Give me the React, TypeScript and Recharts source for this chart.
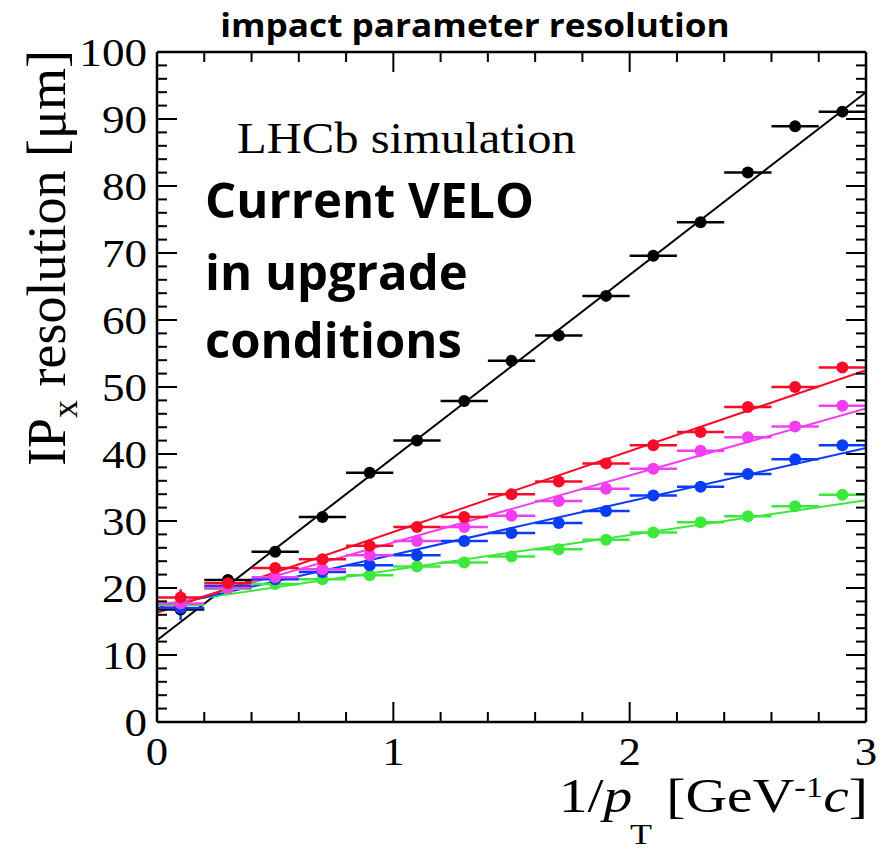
import React from 'react';
import { ComposedChart, Scatter, Line, XAxis, YAxis, ErrorBar } from 'recharts';

// ---- data ----
const binCenters = [0.1, 0.3, 0.5, 0.7, 0.9, 1.1, 1.3, 1.5, 1.7, 1.9, 2.1, 2.3, 2.5, 2.7, 2.9];
const binHalfWidth = 0.1;

const blackValues = [16.8, 21.2, 25.4, 30.6, 37.2, 42.0, 47.9, 53.9, 57.7, 63.6, 69.6, 74.6, 82.0, 88.9, 91.1];
const redValues = [18.6, 20.7, 23.0, 24.3, 26.3, 29.1, 30.6, 34.0, 35.9, 38.6, 41.3, 43.3, 47.0, 50.0, 52.9];
const magentaValues = [17.7, 20.0, 21.6, 22.8, 24.9, 27.0, 29.1, 30.8, 33.0, 34.8, 37.8, 40.5, 42.5, 44.1, 47.2];
const blueValues = [17.0, 20.3, 21.3, 22.4, 23.4, 24.9, 27.0, 28.2, 29.7, 31.5, 33.8, 35.1, 37.0, 39.2, 41.3];
const greenValues = [17.5, 19.9, 20.6, 21.3, 21.9, 23.2, 23.8, 24.7, 25.8, 27.2, 28.3, 29.8, 30.7, 32.2, 33.9];

const blackErrors = [0.6, 0.4, 0.4, 0.4, 0.4, 0.4, 0.4, 0.4, 0.4, 0.4, 0.4, 0.4, 0.4, 0.4, 0.4];
const redErrors = [1.2, 0.4, 0.4, 0.3, 0.3, 0.3, 0.3, 0.3, 0.3, 0.3, 0.3, 0.3, 0.3, 0.3, 0.3];
const magentaErrors = [0.8, 0.4, 0.3, 0.3, 0.3, 0.3, 0.3, 0.3, 0.3, 0.3, 0.3, 0.3, 0.3, 0.3, 0.3];
const blueErrors = [1.8, 0.4, 0.3, 0.3, 0.3, 0.3, 0.3, 0.3, 0.3, 0.3, 0.3, 0.3, 0.3, 0.3, 0.3];
const greenErrors = [0.6, 0.3, 0.3, 0.3, 0.3, 0.3, 0.3, 0.3, 0.3, 0.3, 0.3, 0.3, 0.3, 0.3, 0.3];

const fitX = [0, 3];
const blackFit = [12.2, 94.0];
const redFit = [16.3, 52.5];
const magentaFit = [16.8, 46.8];
const blueFit = [17.0, 40.9];
const greenFit = [17.5, 33.1];

const xTickLabels = ['0', '1', '2', '3'];
const yTickLabels = ['0', '10', '20', '30', '40', '50', '60', '70', '80', '90', '100'];

// ---- helpers ----
const COLORS = {
  black: '#000000',
  red: '#f80a28',
  magenta: '#f23ef2',
  blue: '#0a3cf5',
  green: '#3ce83c',
};

const points = (vals: number[], errs: number[]) =>
  binCenters.map((x, i) => ({ x, y: vals[i], ex: binHalfWidth, ey: errs[i] }));
const fitLine = (vals: number[]) => fitX.map((x, i) => ({ x, y: vals[i] }));

const xTicks: number[] = [];
for (let k = 0; k <= 15; k++) xTicks.push(Math.round(k * 0.2 * 1000) / 1000);
const yTicks: number[] = [];
for (let k = 0; k <= 50; k++) yTicks.push(k * 2);

const isInt = (v: number) => Math.abs(v - Math.round(v)) < 1e-6;
const isXMajor = (v: number) => isInt(v);
const isYMajor = (v: number) => isInt(v / 10);

const SERIF = '"Liberation Serif", "Times New Roman", serif';
const SANS = '"Open Sans", "Liberation Sans", sans-serif';

const MAJOR = 20;
const MINOR = 10;

const BottomTick = (props: any) => {
  const { x, y, payload } = props;
  const v = payload.value;
  const major = isXMajor(v);
  return (
    <g>
      <line x1={x} x2={x} y1={y} y2={y - (major ? MAJOR : MINOR)} stroke="#000" strokeWidth={2} />
      {major && (
        <text
          x={0}
          y={0}
          transform={`translate(${x}, ${y + 43}) scale(1.12, 1)`}
          textAnchor="middle"
          fontFamily={SERIF}
          fontSize={40}
          fill="#000"
        >
          {xTickLabels[Math.round(v)]}
        </text>
      )}
    </g>
  );
};

const TopTick = (props: any) => {
  const { x, y, payload } = props;
  const major = isXMajor(payload.value);
  return <line x1={x} x2={x} y1={y} y2={y + (major ? MAJOR : MINOR)} stroke="#000" strokeWidth={2} />;
};

const LeftTick = (props: any) => {
  const { x, y, payload } = props;
  const v = payload.value;
  const major = isYMajor(v);
  return (
    <g>
      <line x1={x} x2={x + (major ? MAJOR : MINOR)} y1={y} y2={y} stroke="#000" strokeWidth={2} />
      {major && (
        <text
          x={0}
          y={0}
          transform={`translate(${x - 10}, ${y + 14}) scale(1.1, 1)`}
          textAnchor="end"
          fontFamily={SERIF}
          fontSize={41}
          fill="#000"
        >
          {yTickLabels[Math.round(v / 10)]}
        </text>
      )}
    </g>
  );
};

const RightTick = (props: any) => {
  const { x, y, payload } = props;
  const major = isYMajor(payload.value);
  return <line x1={x} x2={x - (major ? MAJOR : MINOR)} y1={y} y2={y} stroke="#000" strokeWidth={2} />;
};

const dot = (color: string) => (p: any) =>
  p.cx == null ? <g /> : <circle cx={p.cx} cy={p.cy} r={6} fill={color} />;

const series = [
  { key: 'black', vals: blackValues, errs: blackErrors, fit: blackFit, color: COLORS.black },
  { key: 'green', vals: greenValues, errs: greenErrors, fit: greenFit, color: COLORS.green },
  { key: 'blue', vals: blueValues, errs: blueErrors, fit: blueFit, color: COLORS.blue },
  { key: 'magenta', vals: magentaValues, errs: magentaErrors, fit: magentaFit, color: COLORS.magenta },
  { key: 'red', vals: redValues, errs: redErrors, fit: redFit, color: COLORS.red },
];

export default function App() {
  const axisLine = { stroke: '#000', strokeWidth: 2.5 };
  return (
    <div style={{ position: 'absolute', left: 0, top: 0, background: '#fff' }}>
      <ComposedChart width={882} height={850} margin={{ top: 51, right: 15, bottom: 0, left: 0 }}>
        <XAxis
          xAxisId="b"
          dataKey="x"
          type="number"
          domain={[0, 3]}
          allowDataOverflow
          ticks={xTicks}
          interval={0}
          height={128}
          tickSize={0}
          tickMargin={0}
          tickLine={false}
          axisLine={axisLine}
          tick={BottomTick}
        />
        <XAxis
          xAxisId="t"
          orientation="top"
          dataKey="x"
          type="number"
          domain={[0, 3]}
          allowDataOverflow
          ticks={xTicks}
          interval={0}
          height={1}
          tickSize={0}
          tickMargin={0}
          tickLine={false}
          axisLine={axisLine}
          tick={TopTick}
        />
        <YAxis
          yAxisId="l"
          type="number"
          domain={[0, 100]}
          allowDataOverflow
          ticks={yTicks}
          interval={0}
          width={157}
          tickSize={0}
          tickMargin={0}
          tickLine={false}
          axisLine={axisLine}
          tick={LeftTick}
        />
        <YAxis
          yAxisId="r"
          orientation="right"
          type="number"
          domain={[0, 100]}
          allowDataOverflow
          ticks={yTicks}
          interval={0}
          width={1}
          tickSize={0}
          tickMargin={0}
          tickLine={false}
          axisLine={axisLine}
          tick={RightTick}
        />

        {series.map((s) => (
          <Line
            key={s.key + '-fit'}
            xAxisId="b"
            yAxisId="l"
            data={fitLine(s.fit)}
            dataKey="y"
            type="linear"
            stroke={s.color}
            strokeWidth={2}
            dot={false}
            activeDot={false}
            isAnimationActive={false}
          />
        ))}
        {series.map((s) => (
          <Scatter
            key={s.key + '-pts'}
            xAxisId="b"
            yAxisId="l"
            data={points(s.vals, s.errs)}
            dataKey="y"
            fill={s.color}
            shape={dot(s.color)}
            isAnimationActive={false}
          >
            <ErrorBar dataKey="ex" direction="x" width={0} stroke={s.color} strokeWidth={2.5} isAnimationActive={false} />
            <ErrorBar dataKey="ey" direction="y" width={0} stroke={s.color} strokeWidth={2.5} isAnimationActive={false} />
          </Scatter>
        ))}

        <text
          x={0}
          y={0}
          transform="translate(475, 37) scale(1.1, 1)"
          textAnchor="middle"
          fontFamily={SANS}
          fontWeight={700}
          fontSize={32}
          fill="#000"
        >
          impact parameter resolution
        </text>
        <text x={0} y={0} transform="translate(237, 153) scale(1.08, 1)" fontFamily={SERIF} fontSize={45} fill="#000">
          LHCb simulation
        </text>
        <text x={205} y={218} fontFamily={SANS} fontWeight={700} fontSize={49} fill="#000">
          Current VELO
        </text>
        <text x={205} y={290} fontFamily={SANS} fontWeight={700} fontSize={49} fill="#000">
          in upgrade
        </text>
        <text x={205} y={358} fontFamily={SANS} fontWeight={700} fontSize={49} fill="#000">
          conditions
        </text>
        <text
          x={65}
          y={258}
          transform="rotate(-90 65 258)"
          textAnchor="middle"
          fontFamily={SERIF}
          fontSize={54}
          fill="#000"
        >
          IP
          <tspan fontSize={36} dy={12}>x</tspan>
          <tspan dy={-12}> resolution [μm]</tspan>
        </text>
        <text
          x={0}
          y={0}
          transform="translate(868, 812) scale(1.2, 1)"
          textAnchor="end"
          fontFamily={SERIF}
          fontSize={48}
          fill="#000"
        >
          1/
          <tspan fontStyle="italic">p</tspan>
          <tspan fontSize={30} dx={-2} dy={32}>T</tspan>
          <tspan dy={-32}> [GeV</tspan>
          <tspan fontSize={29} dy={-15}>-1</tspan>
          <tspan fontStyle="italic" dy={15}>c</tspan>
          ]
        </text>
      </ComposedChart>
    </div>
  );
}
